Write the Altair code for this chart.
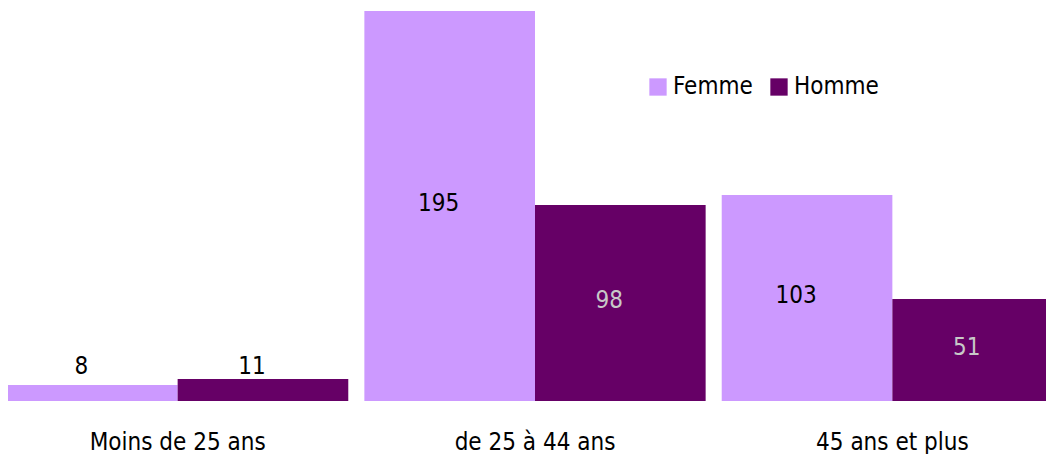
import altair as alt
import pandas as pd

categories = ["Moins de 25 ans", "de 25 à 44 ans", "45 ans et plus"]
series = ["Femme", "Homme"]
femme = [8, 195, 103]
homme = [11, 98, 51]
colors = ["#cc99ff", "#660066"]

rows = []
for c, f, h in zip(categories, femme, homme):
    rows.append({"cat": c, "sexe": "Femme", "val": f})
    rows.append({"cat": c, "sexe": "Homme", "val": h})
df = pd.DataFrame(rows)

FONT = "DejaVu Sans Condensed"
FS = 24
YMAX = 196.5

x = alt.X("cat:N", sort=categories, title=None,
          scale=alt.Scale(paddingInner=0.045, paddingOuter=0, range=[-1, 1055]),
          axis=alt.Axis(labelAngle=0, domain=False, ticks=False, labelPadding=29,
                        labelFontSize=FS, labelColor="#000000", labelFont=FONT,
                        labelFontWeight="normal"))
xo = alt.XOffset("sexe:N", sort=series, scale=alt.Scale(paddingInner=0, paddingOuter=0))
yscale = alt.Scale(domain=[0, YMAX], nice=False)
y = alt.Y("val:Q", scale=yscale, axis=None)

base = alt.Chart(df).encode(x=x, xOffset=xo)

bars = base.mark_bar(clip=True).encode(
    y=y,
    color=alt.Color("sexe:N", sort=series,
                    scale=alt.Scale(domain=series, range=colors),
                    legend=alt.Legend(title=None, orient="none", legendX=638, legendY=67,
                                      direction="horizontal", symbolType="square",
                                      symbolSize=300, symbolStrokeWidth=0,
                                      labelFontSize=FS, labelFont=FONT,
                                      labelColor="#000000", columnPadding=14,
                                      labelOffset=3, padding=0)),
)

outside = base.transform_joinaggregate(
    top="max(val)", groupby=["cat"]
).transform_filter("datum.val < 20").mark_text(
    dy=-12, dx=-11, fontSize=FS, font=FONT, color="#000000", baseline="middle"
).encode(y=alt.Y("top:Q", scale=yscale, axis=None), text="val:Q")

inside = base.transform_filter("datum.val >= 20").transform_calculate(
    mid="datum.val / 2"
).mark_text(fontSize=FS, font=FONT, baseline="middle", dx=-11, dy=-2).encode(
    y=alt.Y("mid:Q", scale=yscale, axis=None),
    text="val:Q",
    color=alt.Color("sexe:N", sort=series,
                    scale=alt.Scale(domain=series, range=["#000000", "#c8c8c8"]),
                    legend=None),
)

chart = alt.layer(bars, outside, inside).resolve_scale(color="independent").properties(
    width=1038, height=393,
    padding={"left": 0, "top": 0, "right": 0, "bottom": 53},
    autosize=alt.AutoSizeParams(type="none"),
).configure(background="#ffffff").configure_view(strokeWidth=0)

chart.save("out.html", embed_options={"renderer": "svg", "actions": False})
